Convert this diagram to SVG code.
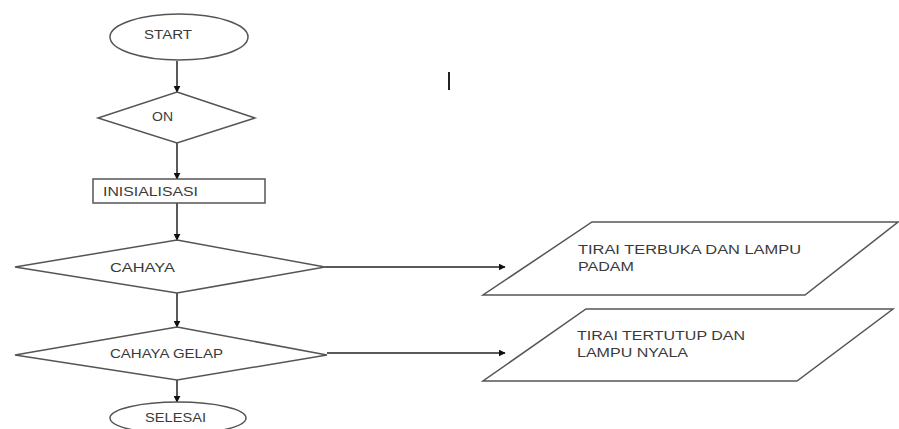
<svg xmlns="http://www.w3.org/2000/svg" width="899" height="429" viewBox="0 0 899 429">
<style>
.s{fill:#fff;stroke:#555;stroke-width:1.5}
.t{font-family:"Liberation Sans",Arial,sans-serif;font-size:12px;fill:#3a3a3a}
.c{stroke:#222;stroke-width:1.5;fill:none}
</style>
<defs>
<marker id="a" viewBox="0 0 10 10" refX="9" refY="5" markerWidth="7" markerHeight="7" orient="auto" markerUnits="userSpaceOnUse">
<path d="M0,0 L10,5 L0,10 Z" fill="#111"/>
</marker>
</defs>
<rect width="899" height="429" fill="#fff"/>
<g id="connectors">
<line class="c" x1="177" y1="61" x2="177" y2="92" marker-end="url(#a)"/>
<line class="c" x1="177" y1="143" x2="177" y2="179" marker-end="url(#a)"/>
<line class="c" x1="177" y1="203" x2="177" y2="240" marker-end="url(#a)"/>
<line class="c" x1="177" y1="293" x2="177" y2="327" marker-end="url(#a)"/>
<line class="c" x1="177" y1="380" x2="177" y2="402" marker-end="url(#a)"/>
<line class="c" x1="325" y1="267" x2="505" y2="267" marker-end="url(#a)"/>
<line class="c" x1="327" y1="353" x2="505" y2="353" marker-end="url(#a)"/>
</g>
<g id="start">
<ellipse class="s" cx="179" cy="37" rx="69" ry="23"/>
<text class="t" x="144" y="39" textLength="48" lengthAdjust="spacingAndGlyphs">START</text>
</g>
<g id="on">
<polygon class="s" points="177,92 255,118 177,143 98,118"/>
<text class="t" x="152" y="121" textLength="21" lengthAdjust="spacingAndGlyphs">ON</text>
</g>
<g id="inisialisasi">
<rect class="s" x="93" y="179" width="172" height="24"/>
<text class="t" x="103" y="196" textLength="95" lengthAdjust="spacingAndGlyphs">INISIALISASI</text>
</g>
<g id="cahaya">
<polygon class="s" points="177,240 325,267 177,293 15,267"/>
<text class="t" x="110" y="272" textLength="65" lengthAdjust="spacingAndGlyphs">CAHAYA</text>
</g>
<g id="cahaya-gelap">
<polygon class="s" points="177,327 327,355 177,380 15,355"/>
<text class="t" x="110" y="358" textLength="113" lengthAdjust="spacingAndGlyphs">CAHAYA GELAP</text>
</g>
<g id="selesai">
<ellipse class="s" cx="178" cy="418" rx="68" ry="16"/>
<text class="t" x="145" y="422" textLength="61" lengthAdjust="spacingAndGlyphs">SELESAI</text>
</g>
<g id="tirai-terbuka">
<polygon class="s" points="592,222 898,222 805,295 483,295"/>
<text class="t" x="578" y="254" textLength="223" lengthAdjust="spacingAndGlyphs">TIRAI TERBUKA DAN LAMPU</text>
<text class="t" x="578" y="271" textLength="56" lengthAdjust="spacingAndGlyphs">PADAM</text>
</g>
<g id="tirai-tertutup">
<polygon class="s" points="586,309 893,309 797,381 483,381"/>
<text class="t" x="577" y="340" textLength="168" lengthAdjust="spacingAndGlyphs">TIRAI TERTUTUP DAN</text>
<text class="t" x="577" y="357" textLength="111" lengthAdjust="spacingAndGlyphs">LAMPU NYALA</text>
</g>
<rect x="448" y="72" width="2" height="18" fill="#222"/>
</svg>
